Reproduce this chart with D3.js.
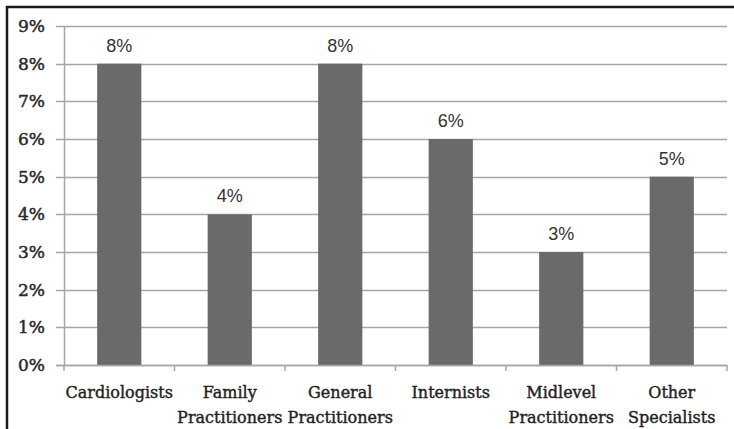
<!DOCTYPE html>
<html>
<head>
<meta charset="utf-8">
<script src="https://cdn.jsdelivr.net/npm/d3@7"></script>
<style>
  html, body { margin: 0; padding: 0; background: #fff; }
  svg { display: block; }
</style>
</head>
<body>
<svg id="chart" width="734" height="429"></svg>
<script>
// Share of physicians by specialty
const categories = ["Cardiologists", "Family Practitioners", "General Practitioners", "Internists", "Midlevel Practitioners", "Other Specialists"];
const labelLines = [["Cardiologists"], ["Family", "Practitioners"], ["General", "Practitioners"], ["Internists"], ["Midlevel", "Practitioners"], ["Other", "Specialists"]];
const values = [0.08, 0.04, 0.08, 0.06, 0.03, 0.05];
const yTicks = [0, 0.01, 0.02, 0.03, 0.04, 0.05, 0.06, 0.07, 0.08, 0.09];

const svg = d3.select("#chart");
const W = 734, H = 429;
const m = { left: 64, right: 7, top: 26, bottom: 64 };

// outer frame (left and top edges visible)
svg.append("path")
  .attr("d", `M7,${H} V7 H${W}`)
  .attr("fill", "none")
  .attr("stroke", "#1a1a1a")
  .attr("stroke-width", 2.5);

const x = d3.scaleBand().domain(categories).range([m.left, W - m.right]).paddingInner(0.6).paddingOuter(0.3);
const y = d3.scaleLinear().domain([0, 0.09]).range([H - m.bottom, m.top]);

// gridlines
svg.append("g")
  .selectAll("line")
  .data(yTicks)
  .join("line")
  .attr("x1", m.left - 8)
  .attr("x2", W - m.right)
  .attr("y1", d => Math.round(y(d)) + 0.5)
  .attr("y2", d => Math.round(y(d)) + 0.5)
  .attr("stroke", "#a6a6a6")
  .attr("stroke-width", 1.5);

// y axis
const yAxis = svg.append("g")
  .attr("transform", `translate(${m.left},0)`)
  .call(d3.axisLeft(y).tickValues(yTicks).tickFormat(d3.format(".0%")).tickSize(0).tickPadding(19));
yAxis.select(".domain").attr("stroke", "#a6a6a6").attr("stroke-width", 1.5);
yAxis.selectAll("text")
  .attr("font-family", "'DejaVu Serif', serif")
  .attr("font-size", 17)
  .attr("fill", "#2a2a2a")
  .attr("stroke", "#2a2a2a")
  .attr("stroke-width", 0.5);

// bars
svg.append("g")
  .selectAll("rect")
  .data(values)
  .join("rect")
  .attr("x", (d, i) => x(categories[i]))
  .attr("width", x.bandwidth())
  .attr("y", d => y(d))
  .attr("height", d => y(0) - y(d))
  .attr("fill", "#6a6a6a");

// value labels
svg.append("g")
  .selectAll("text")
  .data(values)
  .join("text")
  .attr("x", (d, i) => x(categories[i]) + x.bandwidth() / 2)
  .attr("y", d => y(d) - 12)
  .attr("text-anchor", "middle")
  .attr("font-family", "'Liberation Sans', Arial, sans-serif")
  .attr("font-size", 18)
  .attr("fill", "#333")
  .text(d => d3.format(".0%")(d));

// x axis baseline and category tick marks
const x0 = m.left, x1 = W - m.right;
const catWidth = (x1 - x0) / categories.length;
const bounds = d3.range(categories.length + 1).map(i => x0 + i * catWidth);
const xg = svg.append("g");
xg.append("line")
  .attr("x1", x0 - 8).attr("x2", x1)
  .attr("y1", Math.round(y(0)) + 0.5).attr("y2", Math.round(y(0)) + 0.5)
  .attr("stroke", "#a6a6a6").attr("stroke-width", 1.5);
xg.selectAll(".tk")
  .data(bounds)
  .join("line")
  .attr("class", "tk")
  .attr("x1", d => d).attr("x2", d => d)
  .attr("y1", y(0)).attr("y2", y(0) + 6)
  .attr("stroke", "#a6a6a6").attr("stroke-width", 1.5);

// category labels
const lbl = xg.selectAll(".cat")
  .data(labelLines)
  .join("text")
  .attr("class", "cat")
  .attr("text-anchor", "middle")
  .attr("font-family", "'DejaVu Serif', serif")
  .attr("font-size", 16)
  .attr("fill", "#222")
  .attr("stroke", "#222")
  .attr("stroke-width", 0.4);
lbl.selectAll("tspan")
  .data((d, i) => d.map(t => ({ t, cx: x(categories[i]) + x.bandwidth() / 2 })))
  .join("tspan")
  .attr("x", d => d.cx)
  .attr("y", (d, j) => H - m.bottom + 33 + j * 25)
  .text(d => d.t);
</script>
</body>
</html>
